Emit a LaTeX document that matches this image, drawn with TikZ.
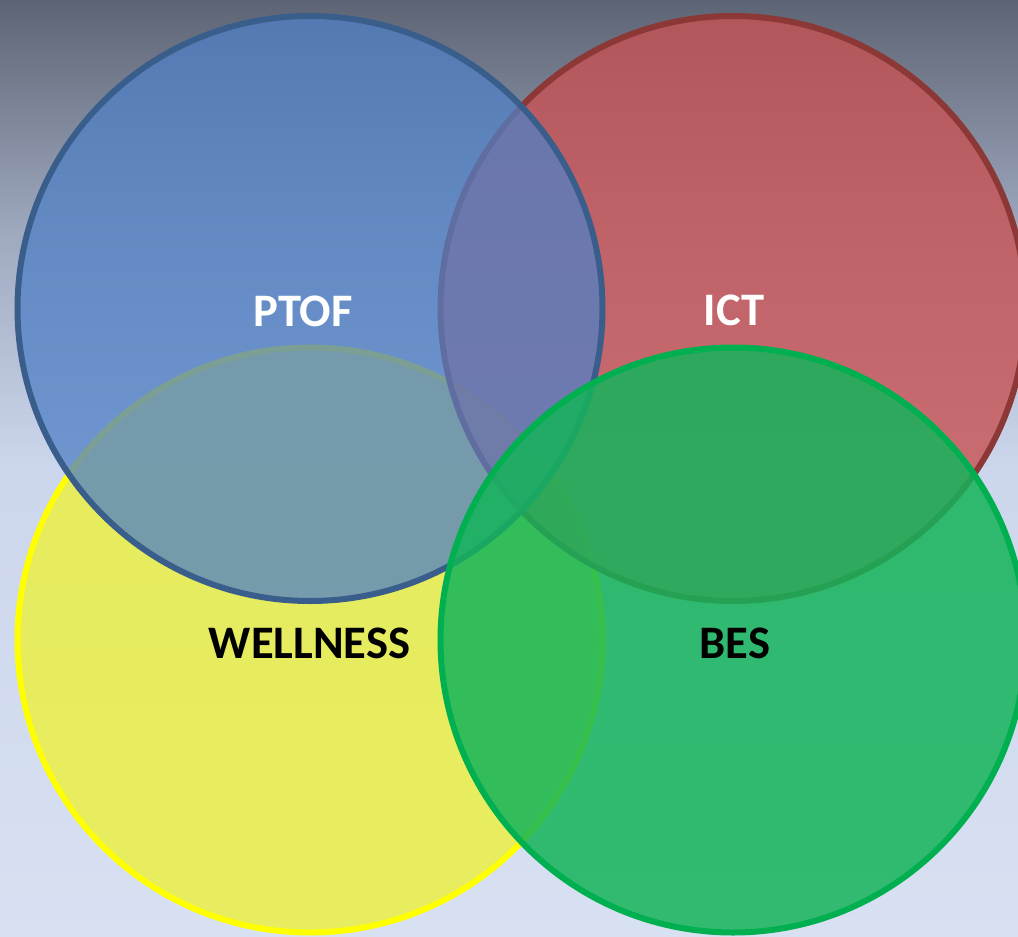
\documentclass[tikz,border=0pt]{standalone}
\usepackage{fontspec}
\setmainfont{Carlito}
\definecolor{bgA}{RGB}{93,100,116}
\definecolor{bgB}{RGB}{158,168,190}
\definecolor{bgC}{RGB}{204,214,236}
\definecolor{bgD}{RGB}{216,225,242}
\definecolor{blueF}{RGB}{80,128,198}
\definecolor{blueB}{RGB}{58,94,140}
\definecolor{redF}{RGB}{200,82,84}
\definecolor{redB}{RGB}{140,56,54}
\definecolor{greenF}{RGB}{20,180,90}
\definecolor{greenB}{RGB}{0,176,80}
\definecolor{yelF}{RGB}{235,240,70}
\definecolor{yelB}{RGB}{255,255,0}
\pgfdeclareverticalshading{bgshade}{100bp}{color(0bp)=(bgD); color(25bp)=(bgD); color(50bp)=(bgC); color(62.7bp)=(bgB); color(75bp)=(bgA); color(100bp)=(bgA)}
\tikzset{
  venn/.style={circle, minimum size=585pt, inner sep=0pt, line width=6pt},
  lbl/.style={font=\bfseries\fontsize{46.6}{50}\selectfont, inner sep=0pt}
}
\begin{document}
\begin{tikzpicture}[x=1pt,y=-1pt]
\useasboundingbox (0,0) rectangle (1018,937);
\shade[shading=bgshade] (0,0) rectangle (1018,937);
\begin{scope}
\clip (0,0) rectangle (1018,937);
\node[venn, draw=yelB, fill=yelF, fill opacity=.85] (wellness) at (310,640) {};
\node[venn, draw=redB, fill=redF, fill opacity=.8] (ict) at (733,308.5) {};
\node[venn, draw=blueB, fill=blueF, fill opacity=.75] (ptof) at (310,308.5) {};
\node[venn, draw=greenB, fill=greenF, fill opacity=.85] (bes) at (733,640) {};
\end{scope}
\node[lbl, text=white] (tptof) at (303,311) {PTOF};
\node[lbl, text=white] (tict) at (734,310) {ICT};
\node[lbl, text=black] (twell) at (309.5,643) {WELLNESS};
\node[lbl, text=black] (tbes) at (735,643) {BES};
\end{tikzpicture}
\end{document}
